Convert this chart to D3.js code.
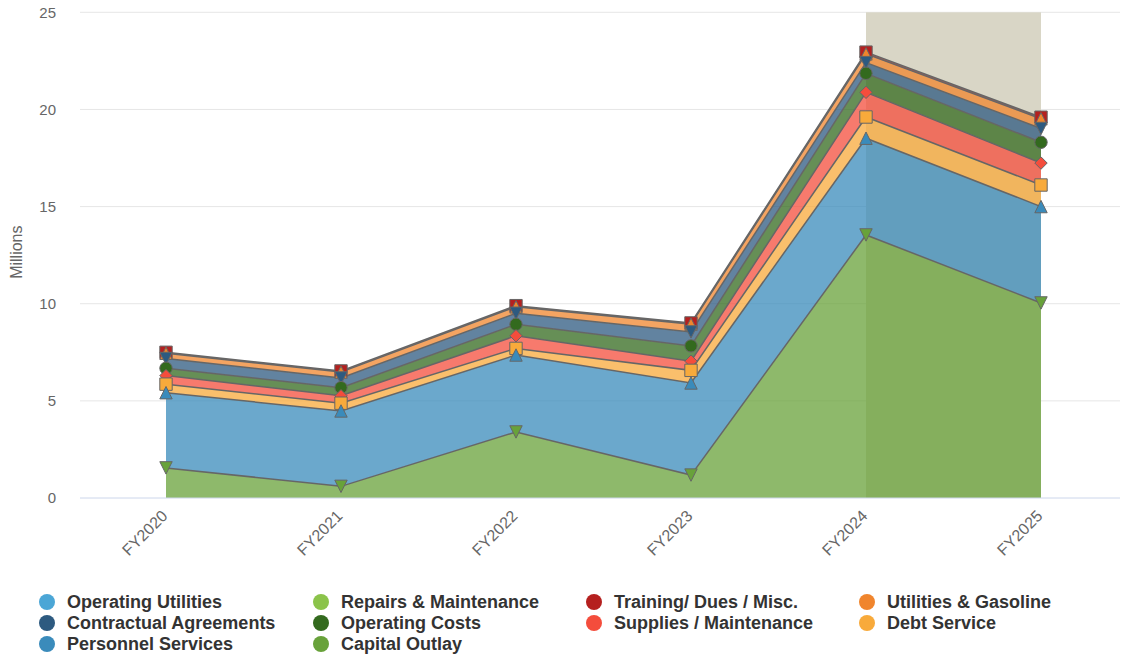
<!DOCTYPE html>
<html>
<head>
<meta charset="utf-8">
<script src="https://cdn.jsdelivr.net/npm/d3@7"></script>
<style>
  html, body { margin: 0; padding: 0; background: #fff; }
  svg { display: block; font-family: "Liberation Sans", Arial, Helvetica, sans-serif; }
</style>
</head>
<body>
<svg id="chart" width="1122" height="655"></svg>
<script>
// ---- data ----
const categories = ["FY2020", "FY2021", "FY2022", "FY2023", "FY2024", "FY2025"];

// series in legend order (first = top of the stack)
const seriesNames = [
  "Operating Utilities", "Repairs & Maintenance", "Training/ Dues / Misc.", "Utilities & Gasoline",
  "Contractual Agreements", "Operating Costs", "Supplies / Maintenance", "Debt Service",
  "Personnel Services", "Capital Outlay"
];
const seriesColors = [
  "#4ba6d6", "#8bc34a", "#b5201f", "#f0852d",
  "#2d5a80", "#336a1e", "#f44d3c", "#f8aa3b",
  "#3a8bbb", "#68a23a"
];
const seriesSymbols = [
  "circle", "diamond", "square", "triangle",
  "triangle-down", "circle", "diamond", "square",
  "triangle", "triangle-down"
];

// values in millions (null = no data)
const operatingUtilities   = [null, null, null, null, null, null];
const repairsMaintenance   = [null, null, null, null, null, null];
const trainingDuesMisc     = [0.05, 0.06, 0.06, 0.06, 0.09, 0.08];
const utilitiesGasoline    = [0.27, 0.30, 0.33, 0.40, 0.45, 0.50];
const contractualAgreements= [0.50, 0.50, 0.57, 0.72, 0.55, 0.71];
const operatingCosts       = [0.38, 0.42, 0.59, 0.79, 0.98, 1.07];
const suppliesMaintenance  = [0.44, 0.38, 0.65, 0.47, 1.27, 1.13];
const debtService          = [0.44, 0.40, 0.34, 0.65, 1.09, 1.11];
const personnelServices    = [3.87, 3.88, 3.96, 4.74, 4.98, 4.96];
const capitalOutlay        = [1.55, 0.60, 3.40, 1.18, 13.54, 10.04];

const seriesValues = [
  operatingUtilities, repairsMaintenance, trainingDuesMisc, utilitiesGasoline,
  contractualAgreements, operatingCosts, suppliesMaintenance, debtService,
  personnelServices, capitalOutlay
];

const yTicks = [0, 5, 10, 15, 20, 25];
const plotBandFrom = "FY2024", plotBandTo = "FY2025";

// ---- layout ----
const svg = d3.select("#chart");
const plot = { left: 80, right: 1120, top: 12.3, bottom: 498 };

const x = d3.scalePoint().domain(categories).range([166, 1041]);
const y = d3.scaleLinear().domain([0, 25]).range([plot.bottom, plot.top]);

// grid
const gGrid = svg.append("g");
gGrid.selectAll("line").data(yTicks.filter(t => t !== 0)).enter().append("line")
  .attr("x1", plot.left).attr("x2", plot.right)
  .attr("y1", d => y(d)).attr("y2", d => y(d))
  .attr("stroke", "#e6e6e6").attr("stroke-width", 1);

// plot band
svg.append("rect")
  .attr("x", x(plotBandFrom)).attr("y", plot.top)
  .attr("width", x(plotBandTo) - x(plotBandFrom))
  .attr("height", plot.bottom - plot.top)
  .attr("fill", "#d9d6c6");

// y axis labels
const yAxis = d3.axisLeft(y).tickValues(yTicks).tickSize(0).tickPadding(0);
const gY = svg.append("g").attr("transform", `translate(56,0)`).call(yAxis);
gY.select(".domain").remove();
gY.selectAll("text").attr("font-size", "15px").attr("fill", "#666")
  .attr("font-family", "Liberation Sans, Arial, sans-serif");

svg.append("text")
  .attr("transform", `translate(22,${(plot.top + plot.bottom) / 2 - 3}) rotate(-90)`)
  .attr("text-anchor", "middle")
  .attr("font-size", "16px").attr("fill", "#666")
  .text("Millions");

// stacked data: bottom -> top order
const stackOrder = seriesNames.map((n, i) => i).reverse(); // capital first
const rows = categories.map((c, ci) => {
  const r = { cat: c };
  seriesNames.forEach((n, si) => { r[n] = seriesValues[si][ci] == null ? 0 : seriesValues[si][ci]; });
  return r;
});
const stack = d3.stack().keys(stackOrder.map(i => seriesNames[i]));
const layers = stack(rows);

const area = d3.area()
  .x(d => x(d.data.cat)).y0(d => y(d[0])).y1(d => y(d[1]));
const topLine = d3.line().x(d => x(d.data.cat)).y(d => y(d[1]));

const gAreas = svg.append("g");
layers.forEach((layer, li) => {
  const si = stackOrder[li];
  if (seriesValues[si].every(v => v == null)) return;
  gAreas.append("path").datum(layer)
    .attr("d", area)
    .attr("fill", seriesColors[si]).attr("fill-opacity", 0.75);
});
layers.forEach((layer, li) => {
  const si = stackOrder[li];
  if (seriesValues[si].every(v => v == null)) return;
  gAreas.append("path").datum(layer)
    .attr("d", topLine)
    .attr("fill", "none").attr("stroke", "#666").attr("stroke-width", 1.5);
});

// x axis line
svg.append("line")
  .attr("x1", plot.left).attr("x2", plot.right)
  .attr("y1", plot.bottom).attr("y2", plot.bottom)
  .attr("stroke", "#ccd6eb").attr("stroke-width", 1);

// x labels
const xAxis = d3.axisBottom(x).tickSize(0).tickPadding(0);
const gX = svg.append("g").attr("transform", `translate(0,${plot.bottom})`).call(xAxis);
gX.select(".domain").remove();
gX.selectAll("text")
  .attr("font-size", "16px").attr("fill", "#666")
  .attr("font-family", "Liberation Sans, Arial, sans-serif")
  .attr("text-anchor", "end")
  .attr("y", 0).attr("dy", 0)
  .attr("transform", "translate(2,19) rotate(-45)");

// markers: series index 0 drawn first, so lower series sit on top
function symbolPath(type, r) {
  switch (type) {
    case "circle": return `M${-r},0A${r},${r} 0 1,0 ${r},0A${r},${r} 0 1,0 ${-r},0Z`;
    case "square": return `M${-r},${-r}H${r}V${r}H${-r}Z`;
    case "diamond": return `M0,${-r}L${r},0L0,${r}L${-r},0Z`;
    case "triangle": return `M0,${-r}L${r},${r}L${-r},${r}Z`;
    case "triangle-down": return `M${-r},${-r}L${r},${-r}L0,${r}Z`;
  }
}
const gMarkers = svg.append("g");
seriesNames.forEach((n, si) => {
  if (seriesValues[si].every(v => v == null)) return;
  const layer = layers[stackOrder.indexOf(si)];
  layer.forEach(d => {
    gMarkers.append("path")
      .attr("d", symbolPath(seriesSymbols[si], 6.2))
      .attr("transform", `translate(${x(d.data.cat)},${y(d[1])})`)
      .attr("fill", seriesColors[si]).attr("stroke", "#666").attr("stroke-width", 1);
  });
});

// legend
const legendColX = [47, 321, 594, 867];
const legendRowY = [602, 623, 644];
const gLeg = svg.append("g");
seriesNames.forEach((n, i) => {
  const cx = legendColX[i % 4], cy = legendRowY[Math.floor(i / 4)];
  gLeg.append("circle").attr("cx", cx).attr("cy", cy).attr("r", 8).attr("fill", seriesColors[i]);
  gLeg.append("text").attr("x", cx + 20).attr("y", cy).attr("dy", "0.36em")
    .attr("font-size", "18px").attr("font-weight", "bold").attr("fill", "#333")
    .text(n);
});
</script>
</body>
</html>
